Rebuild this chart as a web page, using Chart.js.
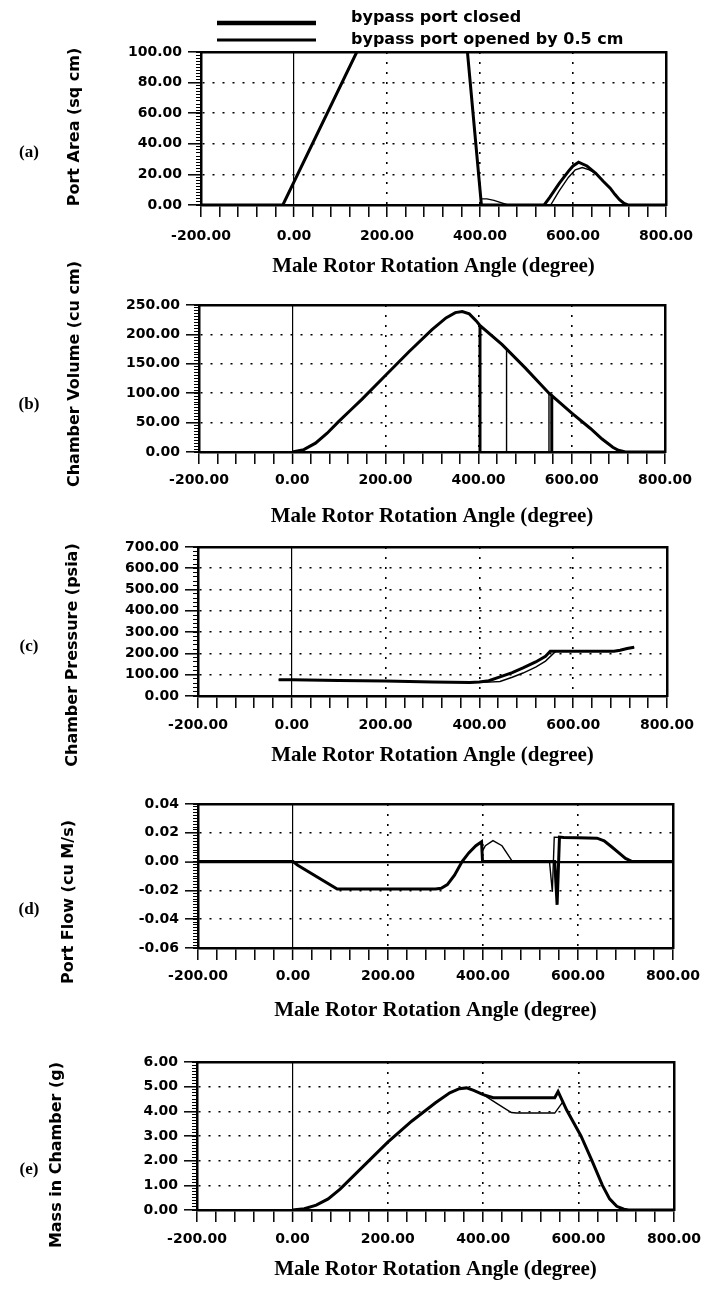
<!DOCTYPE html>
<html>
<head>
<meta charset="utf-8">
<script src="https://cdn.jsdelivr.net/npm/chart.js@4.4.0/dist/chart.umd.min.js"></script>
<style>
  html, body { margin: 0; padding: 0; background: #fff; }
  #wrap { position: relative; width: 710px; height: 1289px; overflow: hidden; }
  #wrap canvas { position: absolute; left: 0; }
</style>
</head>
<body>
<div id="wrap">
  <canvas id="pa"></canvas>
  <canvas id="pb"></canvas>
  <canvas id="pc"></canvas>
  <canvas id="pd"></canvas>
  <canvas id="pe"></canvas>
</div>
<script>
// ---- data (x = male rotor rotation angle, degree) ----

// (a) port area, sq cm
const areaClosedX = [-200, -24, 135, 150, 360, 373, 403, 538, 550, 570, 590, 600, 612, 630, 649, 665, 680, 690, 700, 710, 718, 800];
const areaClosedY = [0, 0, 100, 110, 110, 100, 0, 0, 5, 14, 22, 25.5, 28, 25.5, 20.7, 15.5, 11, 7, 3.5, 1, 0, 0];
const areaOpenX = [-200, -24, 135, 150, 360, 373, 401.8, 415, 430, 445, 460, 552, 570, 590, 605, 620, 635, 649, 665, 680, 690, 700, 710, 718, 800];
const areaOpenY = [0, 0, 100, 110, 110, 100, 4, 4, 3, 1.5, 0, 0, 9, 18, 23, 24.5, 23, 20.7, 15.5, 11, 7, 3.5, 1, 0, 0];

// (b) chamber volume, cu cm (vertical strokes mark port events)
const volClosedX = [0, 25, 50, 75, 100, 125, 150, 200, 250, 300, 330, 350, 365, 380, 395, 403, 403, 403, 450, 500, 551, 557, 557, 557, 600, 640, 665, 688, 700, 715, 800];
const volClosedY = [0, 4, 15, 32, 52, 71, 90, 130, 170, 208, 228, 237, 239, 235, 223, 215, 0, 215, 183, 143, 100, 96, 0, 96, 66, 40, 22, 8, 3, 0, 0];
const volOpenX = [0, 25, 50, 75, 100, 125, 150, 200, 250, 300, 330, 350, 365, 380, 395, 403, 450, 460, 460, 460, 500, 551, 551, 551, 557, 600, 640, 665, 688, 700, 715, 800];
const volOpenY = [0, 4, 15, 32, 52, 71, 90, 130, 170, 208, 228, 237, 239, 235, 223, 215, 183, 176, 0, 176, 143, 100, 0, 100, 96, 66, 40, 22, 8, 3, 0, 0];

// (c) chamber pressure, psia
const presClosedX = [-28, 0, 100, 200, 300, 380, 400, 420, 444, 470, 493, 520, 541, 551, 600, 687, 700, 715, 730];
const presClosedY = [76, 76, 73, 70, 66, 64, 66, 72, 90, 110, 132, 160, 187, 210, 210, 210, 215, 223, 229];
const presOpenX = [-28, 0, 100, 200, 300, 380, 400, 420, 444, 470, 493, 520, 541, 563, 600, 687, 700, 715, 730];
const presOpenY = [76, 76, 73, 70, 66, 64, 64, 65, 68, 88, 108, 136, 164, 210, 210, 210, 215, 223, 229];

// (d) port flow, cu M/s
const flowClosedX = [-200, 0, 10, 93, 200, 300, 312, 325, 340, 356, 370, 385, 397, 399, 551, 556, 561, 570, 600, 640, 655, 670, 688, 700, 714, 800];
const flowClosedY = [0, 0, -0.0025, -0.019, -0.019, -0.019, -0.0185, -0.016, -0.0095, 0, 0.006, 0.011, 0.0138, 0, 0, -0.030, 0.017, 0.0168, 0.0166, 0.0163, 0.0145, 0.0105, 0.0055, 0.0022, 0, 0];
const flowOpenX = [-200, 0, 10, 93, 200, 300, 312, 325, 340, 356, 370, 385, 397, 400, 405, 421, 440, 452, 462, 540, 546, 550, 570, 600, 640, 655, 670, 688, 700, 714, 800];
const flowOpenY = [0, 0, -0.0025, -0.019, -0.019, -0.019, -0.0185, -0.016, -0.0095, 0, 0.006, 0.011, 0.0138, 0.008, 0.011, 0.0146, 0.011, 0.005, 0, 0, -0.021, 0.017, 0.0168, 0.0166, 0.0163, 0.0145, 0.0105, 0.0055, 0.0022, 0, 0];

// (e) mass in chamber, g
const massClosedX = [0, 25, 50, 75, 100, 150, 200, 250, 300, 330, 350, 365, 380, 400, 421, 550, 557, 575, 605, 628, 650, 665, 680, 695, 705, 800];
const massClosedY = [0, 0.05, 0.2, 0.45, 0.85, 1.8, 2.75, 3.6, 4.35, 4.75, 4.92, 4.95, 4.85, 4.68, 4.55, 4.55, 4.8, 4.05, 3.0, 2.0, 1.0, 0.45, 0.15, 0.03, 0, 0];
const massOpenX = [0, 25, 50, 75, 100, 150, 200, 250, 300, 330, 350, 365, 380, 400, 430, 459, 470, 550, 567, 575, 605, 628, 650, 665, 680, 695, 705, 800];
const massOpenY = [0, 0.05, 0.2, 0.45, 0.85, 1.8, 2.75, 3.6, 4.35, 4.75, 4.92, 4.95, 4.85, 4.68, 4.3, 3.95, 3.93, 3.93, 4.38, 4.05, 3.0, 2.0, 1.0, 0.45, 0.15, 0.03, 0, 0];

const legendLabels = ['bypass port closed', 'bypass port opened by 0.5 cm'];
const xTitle = 'Male Rotor Rotation Angle (degree)';
const xMin = -200, xMax = 800, xStep = 40, xLabelStep = 200;

const TRANSPARENT = 'rgba(0,0,0,0)';
const tickFont = { family: 'DejaVu Sans', size: 14, weight: 'bold' };
const titleFont = { family: 'Liberation Serif', size: 21, weight: 'bold' };
const DOTS = [2, 8];

function pts(xs, ys) {
    return xs.map((x, i) => ({ x: x, y: ys[i] }));
}

// panel tag "(a)", rotated y title and the legend of panel (a)
const panelText = {
    id: 'panelText',
    afterDraw(chart, args, o) {
        const ctx = chart.ctx;
        ctx.save();
        ctx.fillStyle = '#000';
        ctx.textAlign = 'center';
        ctx.textBaseline = 'middle';
        ctx.font = 'bold 17px "Liberation Serif"';
        ctx.fillText(o.tag, 29, o.tagY);

        ctx.save();
        ctx.font = 'bold 16px "DejaVu Sans"';
        ctx.translate(o.titleX, o.titleY);
        ctx.rotate(-Math.PI / 2);
        ctx.fillText(o.title, 0, 0);
        ctx.restore();

        if (o.legend) {
            const rows = [
                { y: 23, w: 4.5, ty: 22 },
                { y: 40, w: 3, ty: 44 }
            ];
            ctx.font = 'bold 16px "DejaVu Sans"';
            ctx.textAlign = 'left';
            ctx.textBaseline = 'alphabetic';
            rows.forEach((r, i) => {
                ctx.beginPath();
                ctx.lineWidth = r.w;
                ctx.strokeStyle = '#000';
                ctx.moveTo(217, r.y);
                ctx.lineTo(316, r.y);
                ctx.stroke();
                ctx.fillText(legendLabels[i], 351, r.ty);
            });
        }
        ctx.restore();
    }
};

function buildPanel(p) {
    const canvas = document.getElementById(p.id);
    canvas.width = 710;
    canvas.height = p.canvasH;
    canvas.style.top = p.canvasTop + 'px';

    const padTop = p.top - p.canvasTop;
    const xH = p.titleY + titleFont.size * 0.6 - p.bottom;
    const padBottom = p.canvasH - (p.bottom - p.canvasTop) - xH;
    const eps = p.yStep * 1e-3;

    const inner = v => v > p.yMin + eps && v < p.yMax - eps;
    const isZero = v => Math.abs(v) < eps;

    new Chart(canvas, {
        type: 'line',
        data: {
            datasets: [
                { data: pts(p.closedX, p.closedY), borderWidth: 3 },
                { data: pts(p.openX, p.openY), borderWidth: 1.4 }
            ].map(d => Object.assign(d, {
                borderColor: '#000',
                pointRadius: 0,
                tension: 0,
                fill: false
            }))
        },
        options: {
            responsive: false,
            animation: false,
            events: [],
            layout: { padding: { top: padTop, bottom: padBottom, left: 0, right: 710 - p.right } },
            plugins: {
                legend: { display: false },
                tooltip: { enabled: false },
                panelText: {
                    tag: p.tag, tagY: p.tagY - p.canvasTop,
                    title: p.yTitle, titleX: p.yTitleX, titleY: p.yTitleY - p.canvasTop,
                    legend: !!p.legend
                }
            },
            scales: {
                x: {
                    type: 'linear',
                    position: 'bottom',
                    min: xMin,
                    max: xMax,
                    afterFit: s => { s.height = xH; },
                    ticks: {
                        stepSize: xStep,
                        autoSkip: false,
                        maxRotation: 0,
                        padding: p.labelPad,
                        color: '#000',
                        font: tickFont,
                        callback: v => (Math.round(v) % xLabelStep === 0 ? v.toFixed(2) : '')
                    },
                    grid: {
                        color: c => {
                            if (!c.tick) return TRANSPARENT;
                            const v = c.tick.value;
                            return (v > xMin && v < xMax && Math.round(v) % xLabelStep === 0) ? '#000' : TRANSPARENT;
                        },
                        lineWidth: c => (c.tick && c.tick.value === 0 ? 1.2 : 1.6),
                        tickColor: '#000',
                        tickLength: 12,
                        tickWidth: 1.5
                    },
                    border: {
                        color: '#000',
                        width: 2.5,
                        dash: c => (c.tick && c.tick.value === 0 ? [] : DOTS)
                    },
                    title: {
                        display: true,
                        text: xTitle,
                        color: '#000',
                        font: titleFont,
                        padding: { top: 0, bottom: 0 }
                    }
                },
                y: {
                    type: 'linear',
                    position: 'left',
                    weight: 2,
                    min: p.yMin,
                    max: p.yMax,
                    afterFit: s => { s.width = p.left; },
                    ticks: {
                        stepSize: p.yStep,
                        padding: 6,
                        color: '#000',
                        font: tickFont,
                        callback: v => (Math.abs(v) < eps ? 0 : v).toFixed(2)
                    },
                    grid: {
                        color: c => (c.tick && inner(c.tick.value) ? '#000' : TRANSPARENT),
                        lineWidth: c => (p.zeroSolid && c.tick && isZero(c.tick.value) ? 2.2 : 1.6),
                        tickColor: '#000',
                        tickLength: 13,
                        tickWidth: 1.5
                    },
                    border: {
                        color: '#000',
                        width: 2.5,
                        dash: c => (p.zeroSolid && c.tick && isZero(c.tick.value) ? [] : DOTS)
                    }
                },
                yMinor: {
                    type: 'linear',
                    position: 'left',
                    weight: 0,
                    min: p.yMin,
                    max: p.yMax,
                    afterFit: s => { s.width = 0; },
                    ticks: { display: false, stepSize: p.yStep / p.minorDiv },
                    grid: { drawOnChartArea: false, tickLength: 5, tickColor: '#000', tickWidth: 1 },
                    border: { display: false }
                },
                xTop: {
                    type: 'linear',
                    position: 'top',
                    min: xMin,
                    max: xMax,
                    afterFit: s => { s.height = 0; },
                    ticks: { display: false },
                    grid: { display: false },
                    border: { color: '#000', width: 2.5 }
                },
                yRight: {
                    type: 'linear',
                    position: 'right',
                    min: p.yMin,
                    max: p.yMax,
                    afterFit: s => { s.width = 0; },
                    ticks: { display: false },
                    grid: { display: false },
                    border: { color: '#000', width: 2.5 }
                }
            }
        },
        plugins: [panelText]
    });
}

const panels = [
    {
        id: 'pa', canvasTop: 0, canvasH: 290,
        left: 201, right: 666, top: 52, bottom: 205, titleY: 267, labelPad: 11,
        yMin: 0, yMax: 100, yStep: 20, minorDiv: 10,
        tag: '(a)', tagY: 153, yTitle: 'Port Area (sq cm)', yTitleX: 75, yTitleY: 127,
        legend: true,
        closedX: areaClosedX, closedY: areaClosedY, openX: areaOpenX, openY: areaOpenY
    },
    {
        id: 'pb', canvasTop: 250, canvasH: 290,
        left: 199, right: 665, top: 305, bottom: 452, titleY: 517, labelPad: 8,
        yMin: 0, yMax: 250, yStep: 50, minorDiv: 10,
        tag: '(b)', tagY: 405, yTitle: 'Chamber Volume (cu cm)', yTitleX: 75, yTitleY: 374,
        closedX: volClosedX, closedY: volClosedY, openX: volOpenX, openY: volOpenY
    },
    {
        id: 'pc', canvasTop: 500, canvasH: 290,
        left: 198, right: 667, top: 547, bottom: 696, titleY: 756, labelPad: 9,
        yMin: 0, yMax: 700, yStep: 100, minorDiv: 5,
        tag: '(c)', tagY: 647, yTitle: 'Chamber Pressure (psia)', yTitleX: 73, yTitleY: 655,
        closedX: presClosedX, closedY: presClosedY, openX: presOpenX, openY: presOpenY
    },
    {
        id: 'pd', canvasTop: 760, canvasH: 280,
        left: 198, right: 673, top: 804, bottom: 948, titleY: 1011, labelPad: 8,
        yMin: -0.06, yMax: 0.04, yStep: 0.02, minorDiv: 10, zeroSolid: true,
        tag: '(d)', tagY: 910, yTitle: 'Port Flow (cu M/s)', yTitleX: 69, yTitleY: 902,
        closedX: flowClosedX, closedY: flowClosedY, openX: flowOpenX, openY: flowOpenY
    },
    {
        id: 'pe', canvasTop: 1020, canvasH: 269,
        left: 197, right: 681, top: 1062, bottom: 1210, titleY: 1270, labelPad: 9,
        yMin: 0, yMax: 6, yStep: 1, minorDiv: 8,
        tag: '(e)', tagY: 1170, yTitle: 'Mass in Chamber (g)', yTitleX: 57, yTitleY: 1155,
        closedX: massClosedX, closedY: massClosedY, openX: massOpenX, openY: massOpenY
    }
];

panels.forEach(buildPanel);
</script>
</body>
</html>
